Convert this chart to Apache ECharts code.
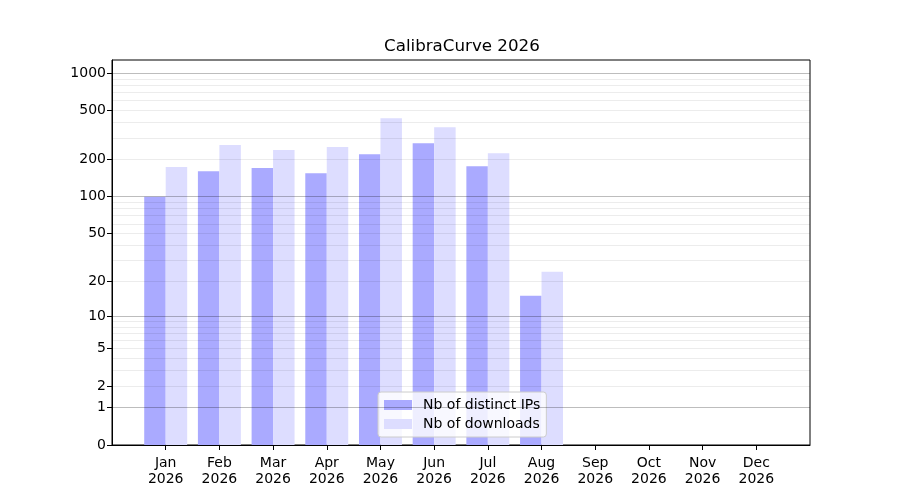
<!DOCTYPE html>
<html><head><meta charset="utf-8">
<script src="https://cdn.jsdelivr.net/npm/echarts@6/dist/echarts.min.js"></script>
<style>html,body{margin:0;padding:0;background:#fff}#c{width:900px;height:500px}</style>
</head><body><div id="c"></div>
<script>
const titleText = 'CalibraCurve 2026';
const months = ['Jan','Feb','Mar','Apr','May','Jun','Jul','Aug','Sep','Oct','Nov','Dec'];
const year = '2026';
const distinctIPs = [100, 161, 171, 155, 221, 271, 177, 15, 0, 0, 0, 0];
const downloads   = [174, 262, 239, 253, 432, 366, 225, 24, 0, 0, 0, 0];
const labeledTicks = [0, 1, 2, 5, 10, 20, 50, 100, 200, 500, 1000];
const majorGrid = [1, 10, 100, 1000];
const minorGrid = [2,3,4,5,6,7,8,9,20,30,40,50,60,70,80,90,200,300,400,500,600,700,800,900];
const yTop = 1278;

const f = v => Math.log10(1 + v);
const inv = t => Math.round(Math.pow(10, t) - 1);
const cats = [''].concat(months.map(m => m + '\n' + year), ['']);
const pad = arr => [null].concat(arr.map(f), [null]);
const FONT = 'DejaVu Sans';

const hiddenAxis = (values, color) => ({
  type: 'value', min: 0, max: f(yTop), position: 'left', z: 5,
  axisLine: {show: false}, axisLabel: {show: false},
  axisTick: {show: false, customValues: values.map(f)},
  splitLine: {show: true, lineStyle: {color: color, width: 1}}
});

const chart = echarts.init(document.getElementById('c'), null, {renderer: 'canvas'});
chart.setOption({
  animation: false,
  backgroundColor: '#fff',
  title: {text: titleText, left: 384, top: 38, padding: 0,
    textStyle: {fontFamily: FONT, fontSize: 16.7, fontWeight: 'normal', color: '#000'}},
  grid: {left: 112, right: 90, top: 60, bottom: 55, show: true, borderColor: '#000', borderWidth: 1, containLabel: false},
  legend: {
    orient: 'vertical', left: 378, top: 392, padding: [6, 6, 6, 6], itemGap: 5,
    itemWidth: 28, itemHeight: 10, icon: 'rect',
    backgroundColor: 'rgba(255,255,255,0.8)', borderColor: '#cccccc', borderWidth: 1, borderRadius: 3,
    textStyle: {fontFamily: FONT, fontSize: 14, color: '#000', padding: [0, 0, 0, 6]},
    data: ['Nb of distinct IPs', 'Nb of downloads']
  },
  xAxis: {
    type: 'category', data: cats, boundaryGap: false,
    axisLine: {show: true, lineStyle: {color: '#000'}},
    axisTick: {show: true, length: 5, lineStyle: {color: '#000'}, interval: (i, v) => v !== ''},
    axisLabel: {interval: (i, v) => v !== '', fontFamily: FONT, fontSize: 14, color: '#000', lineHeight: 16.5, margin: 10},
    splitLine: {show: false}
  },
  yAxis: [
    {
      type: 'value', min: 0, max: f(yTop), position: 'left', z: 6,
      axisLine: {show: true, lineStyle: {color: '#000'}},
      axisTick: {show: true, length: 5, lineStyle: {color: '#000'}, customValues: labeledTicks.map(f)},
      axisLabel: {customValues: labeledTicks.map(f), formatter: v => String(inv(v)),
        fontFamily: FONT, fontSize: 14, color: '#000', margin: 6},
      splitLine: {show: false}
    },
    hiddenAxis(minorGrid, 'rgba(0,0,0,0.075)'),
    hiddenAxis(majorGrid, 'rgba(0,0,0,0.26)')
  ],
  series: [
    {name: 'Nb of distinct IPs', type: 'bar', data: pad(distinctIPs), barWidth: '40%', barGap: '0%',
     itemStyle: {color: '#aaaaff'}},
    {name: 'Nb of downloads', type: 'bar', data: pad(downloads), barWidth: '40%', barGap: '0%',
     itemStyle: {color: '#ddddff'}}
  ]
});
</script></body></html>
